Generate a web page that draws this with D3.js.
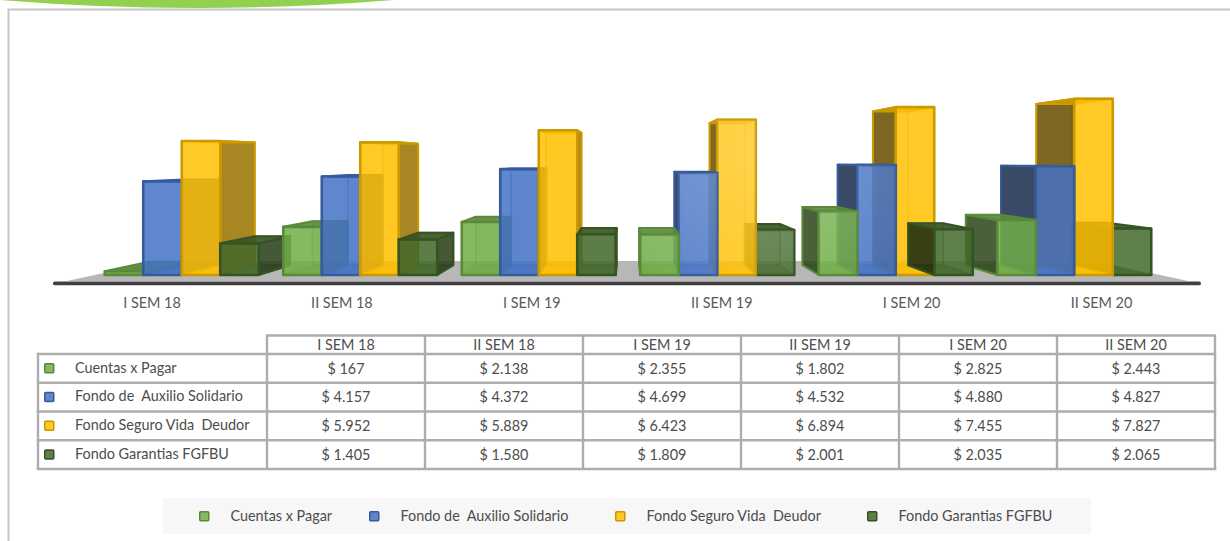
<!DOCTYPE html>
<html><head><meta charset="utf-8">
<script src="https://cdn.jsdelivr.net/npm/d3@7/dist/d3.min.js"></script>
<style>html,body{margin:0;padding:0;background:#fff}svg{display:block}text{font-family:Lato,Carlito,sans-serif}</style>
</head><body><svg id="c" width="1230" height="541"></svg>
<script>
const categories=["I SEM 18","II SEM 18","I SEM 19","II SEM 19","I SEM 20","II SEM 20"];
const seriesNames=["Cuentas x Pagar","Fondo de  Auxilio Solidario","Fondo Seguro Vida  Deudor","Fondo Garantias FGFBU"];
const cuentas=[167,2138,2355,1802,2825,2443];
const auxilio=[4157,4372,4699,4532,4880,4827];
const seguro=[5952,5889,6423,6894,7455,7827];
const garantias=[1405,1580,1809,2001,2035,2065];
const seriesValues=[cuentas,auxilio,seguro,garantias];
const seriesColors=["#70ad47","#4472c4","#ffc000","#43682b"];
const drawnLast=["I SEM 20","Fondo Garantias FGFBU"];

const svg=d3.select("#c");
const vx=627,vy=160,backS=.915,floorS=.835;
const project=(x,y,s)=>[vx+(x-vx)*s,vy+(y-vy)*s];
const x0=d3.scaleBand().domain(categories).range([92.5,1163.5]).paddingInner(24.5/178.5).paddingOuter(12.25/178.5);
const x1=d3.scaleBand().domain(seriesNames).range([0,x0.bandwidth()]);
const y=d3.scaleLinear().domain([0,8000]).range([275,94.8]);
const poly=d3.line();
const shade=(c,k)=>{const r=d3.rgb(c);return d3.rgb(r.r*k,r.g*k,r.b*k).formatHex();};

const defs=svg.append("defs");
const glare=defs.append("radialGradient").attr("id","glare").attr("gradientUnits","userSpaceOnUse").attr("cx",760).attr("cy",150).attr("r",170);
glare.append("stop").attr("offset",0).attr("stop-color","#fff").attr("stop-opacity",.2);
glare.append("stop").attr("offset",1).attr("stop-color","#fff").attr("stop-opacity",0);

// decorative header and frame
svg.append("path").attr("d","M0,0 Q197,16 394,0 Z").attr("fill","#92d050");
svg.append("path").attr("d","M8.5,541 V9.5 H1230").attr("fill","none").attr("stroke","#c6c6c6").attr("stroke-width",2);

// floor
const fy=281,fl=67,fr=1188;
svg.append("path").attr("d",poly([[fl,fy],[fr,fy],project(fr,fy,floorS),project(fl,fy,floorS)])+"Z").attr("fill","#b7b7b7");
svg.append("rect").attr("x",53).attr("y",281.5).attr("width",1148).attr("height",3.8).attr("rx",1.9).attr("fill","#404040");

// bars
const bars=[];
categories.forEach((c,i)=>seriesNames.forEach((n,j)=>{
  const l=x0(c)+x1(n),r=l+x1.bandwidth();
  bars.push({c,n,l,r,top:y(seriesValues[j][i]),color:seriesColors[j],
    dist:Math.max(Math.abs(l-vx),Math.abs(r-vx)),last:c===drawnLast[0]&&n===drawnLast[1]});
}));
bars.sort((a,b)=>(a.last-b.last)||(b.dist-a.dist));
const base=y(0);
bars.forEach(b=>{
  const g=svg.append("g");
  const F=(x,yy)=>[x,yy],B=(x,yy)=>project(x,yy,backS);
  const face=(pts,fill,op,stroke,sw,sop)=>g.append("path").attr("d",poly(pts)+"Z").attr("fill",fill).attr("fill-opacity",op)
     .attr("stroke",stroke).attr("stroke-width",sw).attr("stroke-opacity",sop).attr("stroke-linejoin","round");
  const edge=shade(b.color,.8);
  face([B(b.l,b.top),B(b.r,b.top),B(b.r,base),B(b.l,base)],b.color,.12,edge,1.6,.5);
  face([F(b.l,base),F(b.r,base),B(b.r,base),B(b.l,base)],b.color,.55,edge,1.6,.5);
  if(b.r<vx) face([F(b.r,b.top),B(b.r,b.top),B(b.r,base),F(b.r,base)],shade(b.color,.6),.85,edge,2,1);
  if(b.l>vx) face([F(b.l,b.top),B(b.l,b.top),B(b.l,base),F(b.l,base)],shade(b.color,.4),.85,edge,2,1);
  face([F(b.l,b.top),F(b.r,b.top),B(b.r,b.top),B(b.l,b.top)],shade(b.color,.8),.9,edge,2,1);
  const front=[F(b.l,b.top),F(b.r,b.top),F(b.r,base),F(b.l,base)];
  face(front,b.color,.85,edge,2.6,1);
  g.append("path").attr("d",poly(front)+"Z").attr("fill","url(#glare)");
});

// category axis
const xLabels=d3.scalePoint().domain(categories).range([151.5,1101]);
const ax=svg.append("g").attr("transform","translate(0,296)").call(d3.axisBottom(xLabels).tickSize(0).tickPadding(0));
ax.select(".domain").remove();
ax.selectAll("text").attr("dy",null).attr("y",8).attr("dominant-baseline","middle").attr("font-family","Lato").attr("font-size",14.4).attr("fill","#595959");

// data table
const money=d3.formatLocale({decimal:",",thousands:".",grouping:[3],currency:["$ ",""]}).format("$,");
const colX=d3.scalePoint().domain(d3.range(categories.length+1)).range([267,1215]);
const rowY=d3.scalePoint().domain(d3.range(seriesNames.length+1)).range([354,469]);
const line=(x1_,y1_,x2_,y2_)=>svg.append("line").attr("x1",x1_).attr("y1",y1_).attr("x2",x2_).attr("y2",y2_).attr("stroke","#adadad").attr("stroke-width",2.4);
line(267,335.5,1215,335.5);
colX.domain().forEach(i=>line(colX(i),334.5,colX(i),470));
line(38,352.8,38,470);
rowY.domain().forEach(i=>line(36.8,rowY(i),1216.2,rowY(i)));
const tFont=(s)=>s.attr("font-family","Lato").attr("font-size",14.4).attr("fill","#4d4d4d");
categories.forEach((c,i)=>tFont(svg.append("text")).attr("x",(colX(i)+colX(i+1))/2).attr("y",346).attr("text-anchor","middle").attr("dominant-baseline","middle").text(c));
const key=(x,cy,c)=>svg.append("rect").attr("x",x+.75).attr("y",cy-4.25).attr("width",9).attr("height",9).attr("rx",1).attr("fill",c).attr("fill-opacity",.85).attr("stroke",shade(c,.78)).attr("stroke-width",1.5);
seriesNames.forEach((n,j)=>{
  const cy=(rowY(j)+rowY(j+1))/2;
  key(44,cy-.5,seriesColors[j]);
  tFont(svg.append("text")).attr("x",75).attr("y",cy+.5).attr("dominant-baseline","middle").style("white-space","pre").text(n);
  categories.forEach((c,i)=>tFont(svg.append("text")).attr("x",(colX(i)+colX(i+1))/2).attr("y",cy+1.5).attr("text-anchor","middle").attr("dominant-baseline","middle").text(money(seriesValues[j][i])));
});

// legend
svg.append("rect").attr("x",163).attr("y",498).attr("width",928).attr("height",36).attr("fill","#f7f7f7");
const legendKeyX=d3.scaleOrdinal().domain(seriesNames).range([199,369,615,867]);
seriesNames.forEach((n,j)=>{
  key(legendKeyX(n),516,seriesColors[j]);
  tFont(svg.append("text")).attr("x",legendKeyX(n)+31.5).attr("y",517).attr("dominant-baseline","middle").style("white-space","pre").text(n);
});
</script></body></html>
